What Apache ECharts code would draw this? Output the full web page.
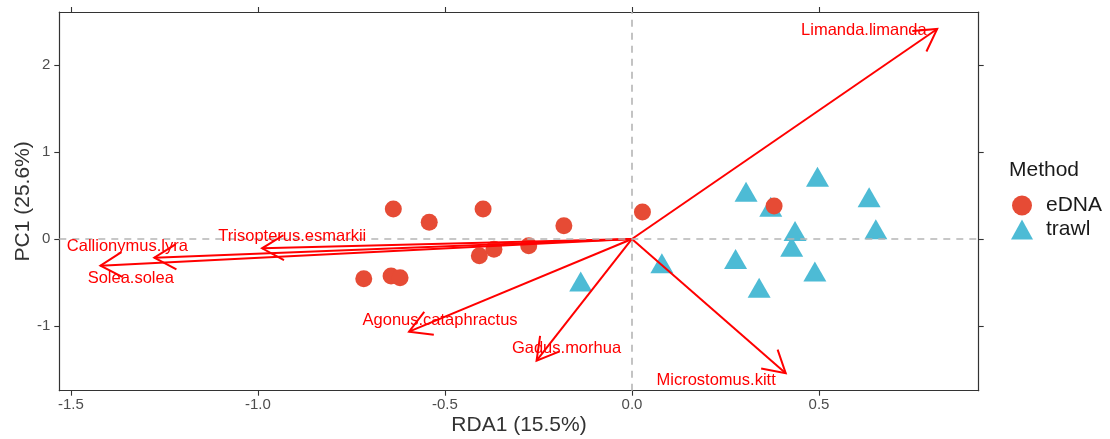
<!DOCTYPE html>
<html><head><meta charset="utf-8">
<script src="https://cdn.jsdelivr.net/npm/echarts@6/dist/echarts.min.js"></script>
<style>html,body{margin:0;padding:0;background:#fff}#c{width:1110px;height:439px}</style>
</head><body><div id="c"></div>
<script>
// Tick values
const xTicks = [-1.5, -1.0, -0.5, 0.0, 0.5];
const yTicks = [-1, 0, 1, 2];

// Site scores
const ednaX = [-0.638, -0.398, -0.542, -0.182, 0.028, -0.276, -0.369, -0.408, -0.717, -0.644, -0.620, 0.380];
const ednaY = [0.345, 0.345, 0.192, 0.153, 0.310, -0.077, -0.119, -0.192, -0.456, -0.425, -0.445, 0.379];
const trawlX = [0.305, 0.496, 0.634, 0.371, 0.436, 0.652, 0.427, 0.277, 0.489, 0.340, 0.080, -0.137];
const trawlY = [0.544, 0.716, 0.479, 0.371, 0.092, 0.111, -0.088, -0.230, -0.375, -0.560, -0.280, -0.490];

// Species arrows
const species = ['Limanda.limanda', 'Microstomus.kitt', 'Gadus.morhua', 'Agonus.cataphractus', 'Trisopterus.esmarkii', 'Callionymus.lyra', 'Solea.solea'];
const arrowX = [0.816, 0.411, -0.255, -0.596, -0.989, -1.277, -1.421];
const arrowY = [2.414, -1.544, -1.399, -1.065, -0.107, -0.215, -0.307];
const labelX = [0.620, 0.225, -0.175, -0.513, -0.908, -1.349, -1.340];
const labelY = [2.402, -1.621, -1.264, -0.931, 0.026, -0.088, -0.452];

const FONT = '"Liberation Sans", Arial, sans-serif';
const chart = echarts.init(document.getElementById('c'), null, {renderer: 'canvas'});

function axisX(pos, showLabel) {
  return {
    type: 'value', position: pos, min: -1.531, max: 0.927,
    axisLine: {show: true, onZero: false, lineStyle: {color: '#333333', width: 1.2}},
    axisTick: {show: true, customValues: xTicks, length: 5, lineStyle: {color: '#333333', width: 1.1}},
    axisLabel: {show: showLabel, customValues: xTicks, formatter: v => v.toFixed(1), fontSize: 15, color: '#4d4d4d', margin: 7, fontFamily: FONT},
    splitLine: {show: false},
    name: showLabel ? 'RDA1 (15.5%)' : '', nameLocation: 'middle', nameGap: 24, nameMoveOverlap: false,
    nameTextStyle: {fontSize: 21, color: '#333333', fontFamily: FONT}
  };
}
function axisY(pos, showLabel) {
  return {
    type: 'value', position: pos, min: -1.744, max: 2.609,
    axisLine: {show: true, onZero: false, lineStyle: {color: '#333333', width: 1.2}},
    axisTick: {show: true, customValues: yTicks, length: 5, lineStyle: {color: '#333333', width: 1.1}},
    axisLabel: {show: showLabel, customValues: yTicks, formatter: v => String(v), fontSize: 15, color: '#4d4d4d', margin: 9, fontFamily: FONT},
    splitLine: {show: false},
    name: showLabel ? 'PC1 (25.6%)' : '', nameLocation: 'middle', nameGap: 26, nameMoveOverlap: false,
    nameTextStyle: {fontSize: 21, color: '#333333', fontFamily: FONT}
  };
}

const arrowData = species.map((s, i) => [arrowX[i], arrowY[i]]);
const labelData = species.map((s, i) => [labelX[i], labelY[i], s]);

chart.setOption({
  animation: false,
  backgroundColor: '#ffffff',
  grid: {left: 59.3, right: 131.3, top: 12, bottom: 48.3, containLabel: false, outerBoundsMode: 'none'},
  xAxis: [axisX('bottom', true), axisX('top', false)],
  yAxis: [axisY('left', true), axisY('right', false)],
  legend: {
    data: ['eDNA', 'trawl'], orient: 'vertical', left: 1011, top: 195, padding: 0,
    itemWidth: 22, itemHeight: 20, itemGap: 3,
    textStyle: {fontSize: 21, color: '#1a1a1a', fontFamily: FONT, padding: [0, 0, 0, 8]}
  },
  graphic: [{type: 'text', left: 1009, top: 160, style: {text: 'Method', fontSize: 21, fill: '#1a1a1a', fontFamily: FONT}}],
  series: [
    {
      type: 'scatter', name: 'trawl', symbol: 'triangle', symbolSize: [23, 20],
      itemStyle: {color: '#4DBBD5', opacity: 1},
      data: trawlX.map((x, i) => [x, trawlY[i]]),
      markLine: {
        silent: true, symbol: 'none', label: {show: false},
        lineStyle: {color: '#b5b5b5', width: 1.6, type: [7, 6]},
        data: [{xAxis: 0}, {yAxis: 0}]
      },
      z: 2
    },
    {
      type: 'scatter', name: 'eDNA', symbol: 'circle', symbolSize: 17,
      itemStyle: {color: '#E64B35', opacity: 1},
      data: ednaX.map((x, i) => [x, ednaY[i]]), z: 3
    },
    {
      type: 'custom', name: 'arrows', z: 4, silent: true,
      data: arrowData,
      renderItem: function (params, api) {
        const o = api.coord([0, 0]);
        const t = api.coord([api.value(0), api.value(1)]);
        const ang = Math.atan2(t[1] - o[1], t[0] - o[0]);
        const L = 25, a = Math.PI / 6;
        const p1 = [t[0] - L * Math.cos(ang - a), t[1] - L * Math.sin(ang - a)];
        const p2 = [t[0] - L * Math.cos(ang + a), t[1] - L * Math.sin(ang + a)];
        return {type: 'group', children: [
          {type: 'line', shape: {x1: o[0], y1: o[1], x2: t[0], y2: t[1]}, style: {stroke: '#ff0000', lineWidth: 2}},
          {type: 'polyline', shape: {points: [p1, t, p2]}, style: {stroke: '#ff0000', lineWidth: 2, fill: null}}
        ]};
      }
    },
    {
      type: 'custom', name: 'labels', z: 5, silent: true,
      data: labelData,
      renderItem: function (params, api) {
        const p = api.coord([api.value(0), api.value(1)]);
        return {type: 'text', x: p[0], y: p[1], style: {
          text: labelData[params.dataIndex][2], fill: '#ff0000', fontSize: 16.5, fontFamily: FONT,
          align: 'center', verticalAlign: 'middle'
        }};
      }
    }
  ]
});
</script></body></html>
